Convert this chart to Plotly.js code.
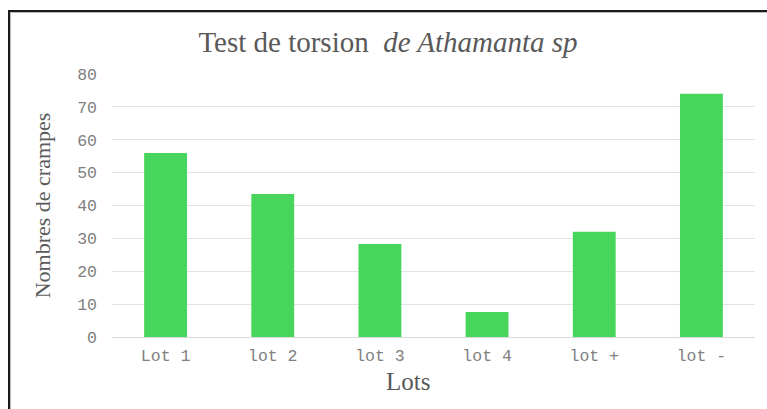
<!DOCTYPE html>
<html>
<head>
<meta charset="utf-8">
<script src="https://cdn.plot.ly/plotly-3.0.1.min.js"></script>
<style>
  html, body { margin: 0; padding: 0; background: #fff; overflow: hidden; }
  #frame { position: absolute; left: 8px; top: 10px; width: 800px; height: 450px;
           border-left: 2px solid #1a1a1a; border-top: 2px solid #1a1a1a; box-shadow: inset 1px 1px 0 #bbb; }
  #chart { position: absolute; left: 0; top: 0; width: 767px; height: 409px; }
</style>
</head>
<body>
<div id="frame"></div>
<div id="chart"></div>
<script>
const categories = ["Lot 1", "lot 2", "lot 3", "lot 4", "lot +", "lot -"];
const crampes = [56, 43.5, 28.3, 7.6, 32, 74];
const yTicks = [0, 10, 20, 30, 40, 50, 60, 70, 80];

const trace = {
  type: 'bar',
  x: categories,
  y: crampes,
  width: 0.4,
  marker: { color: '#47d55b' },
  hoverinfo: 'x+y'
};

const serif = 'Liberation Serif, Times New Roman, serif';
const mono = 'Liberation Mono, Courier New, monospace';

const layout = {
  width: 767,
  height: 409,
  paper_bgcolor: 'rgba(0,0,0,0)',
  plot_bgcolor: 'rgba(0,0,0,0)',
  margin: { l: 112, r: 12, t: 74, b: 72 },
  showlegend: false,
  title: {
    text: 'Test de torsion&nbsp; <i>de Athamanta sp</i>',
    font: { family: serif, size: 29, color: '#595959' },
    x: 388 / 767, xref: 'container', xanchor: 'center',
    y: 1 - 42 / 409, yref: 'container', yanchor: 'middle'
  },
  xaxis: {
    type: 'category',
    tickfont: { family: mono, size: 16.5, color: '#808080' },
    ticklabelstandoff: 3,
    showgrid: false,
    showline: true, linecolor: '#d9d9d9', linewidth: 1,
    ticks: '',
    automargin: false
  },
  yaxis: {
    range: [0, 80],
    tickvals: yTicks,
    tickfont: { family: mono, size: 16.5, color: '#808080' },
    ticklabelstandoff: 14,
    gridcolor: '#e3e3e3', gridwidth: 1,
    zeroline: false,
    ticks: '', ticklen: 0,
    automargin: false,
    title: { text: 'Nombres de crampes', font: { family: serif, size: 22, color: '#595959' }, standoff: 20 }
  },
  annotations: [{
    text: 'Lots',
    xref: 'paper', yref: 'paper',
    x: (408 - 112) / 643, y: (337 - 381) / 263,
    xanchor: 'center', yanchor: 'middle',
    showarrow: false,
    font: { family: serif, size: 25, color: '#595959' }
  }],
  bargap: 0.6
};

Plotly.newPlot('chart', [trace], layout, { displayModeBar: false, staticPlot: false });
</script>
</body>
</html>
